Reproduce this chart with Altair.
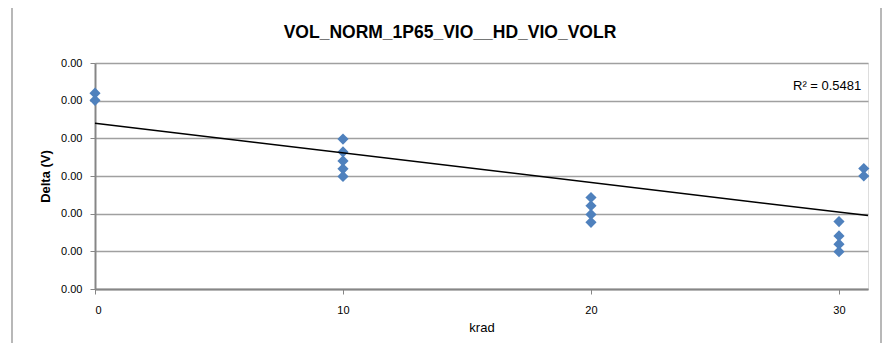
import altair as alt
import pandas as pd

# --- data ---
krad = [0, 0, 10, 10, 10, 10, 10, 20, 20, 20, 20, 30, 30, 30, 30, 31, 31]
delta = [0.002600, 0.002505, 0.001990, 0.001820, 0.001700, 0.001595, 0.001495,
         0.001215, 0.001105, 0.000990, 0.000885, 0.000895, 0.000705, 0.000595,
         0.000495, 0.001600, 0.001500]
trend_x = [0, 31.17]
trend_y = [0.002200, 0.000975]
x_ticks = [0, 10, 20, 30]
y_ticks = [0, 0.0005, 0.0010, 0.0015, 0.0020, 0.0025, 0.0030]
title_text = "VOL_NORM_1P65_VIO__HD_VIO_VOLR"
r2_text = "R² = 0.5481"

pts = pd.DataFrame({"krad": krad, "delta": delta})
trend = pd.DataFrame({"krad": trend_x, "delta": trend_y})

FONT = "Liberation Sans"
W, H = 773, 226

xs = alt.Scale(domain=[0, 31.17], nice=False, zero=False)
ys = alt.Scale(domain=[0, 0.003], nice=False)

xax = alt.Axis(values=x_ticks, format="d", grid=False, title="krad",
               labelFont=FONT, labelFontSize=11, labelColor="#000000",
               titleFont=FONT, titleFontSize=13, titleFontWeight="normal",
               titleColor="#000000", titlePadding=6,
               domainColor="#868686", domainWidth=2,
               tickColor="#868686", tickSize=5, labelPadding=10)
yax = alt.Axis(values=y_ticks, format=".2f", grid=True, gridColor="#A0A0A0",
               gridWidth=1.5, title="Delta (V)",
               labelFont=FONT, labelFontSize=11, labelColor="#000000",
               titleFont=FONT, titleFontSize=13, titleFontWeight="bold",
               titleColor="#000000", titlePadding=8,
               domainColor="#868686", domainWidth=2,
               tickColor="#868686", tickSize=5, labelPadding=8)

points = alt.Chart(pts).mark_point(
    shape="diamond", filled=True, size=125, color="#4F81BD", opacity=1
).encode(
    x=alt.X("krad:Q", scale=xs, axis=xax),
    y=alt.Y("delta:Q", scale=ys, axis=yax),
)

line = alt.Chart(trend).mark_line(color="#000000", strokeWidth=1.5).encode(
    x=alt.X("krad:Q", scale=xs, axis=xax),
    y=alt.Y("delta:Q", scale=ys, axis=yax),
)

one = pd.DataFrame({"a": [0]})
r2 = alt.Chart(one).mark_text(
    text=r2_text, font=FONT, fontSize=13, align="left", baseline="middle",
    color="#000000"
).encode(x=alt.value(698), y=alt.value(23))

title = alt.Chart(one).mark_text(
    text=title_text, font=FONT, fontSize=17.5, fontWeight="bold",
    align="center", baseline="middle", color="#000000"
).encode(x=alt.value(355), y=alt.value(-30))

frame_col = "#A0A0A0"
frame_top = alt.Chart(one).mark_rule(color=frame_col, strokeWidth=1.5).encode(
    x=alt.value(-83), x2=alt.value(786), y=alt.value(-58))
frame_left = alt.Chart(one).mark_rule(color=frame_col, strokeWidth=1.5).encode(
    x=alt.value(-83), y=alt.value(-58), y2=alt.value(300))
frame_right = alt.Chart(one).mark_rule(color=frame_col, strokeWidth=1.5).encode(
    x=alt.value(786), y=alt.value(-58), y2=alt.value(300))

chart = alt.layer(points, line, r2, title, frame_top, frame_left, frame_right).properties(
    width=W, height=H,
    autosize=alt.AutoSizeParams(type="none"),
    padding={"left": 87, "top": 55, "right": 14, "bottom": 54},
).configure_view(
    fill="#E7ECEC", stroke="#000000", strokeWidth=2
).configure(background="#FFFFFF")

chart.save("out.html", embed_options={"renderer": "svg", "actions": False})
